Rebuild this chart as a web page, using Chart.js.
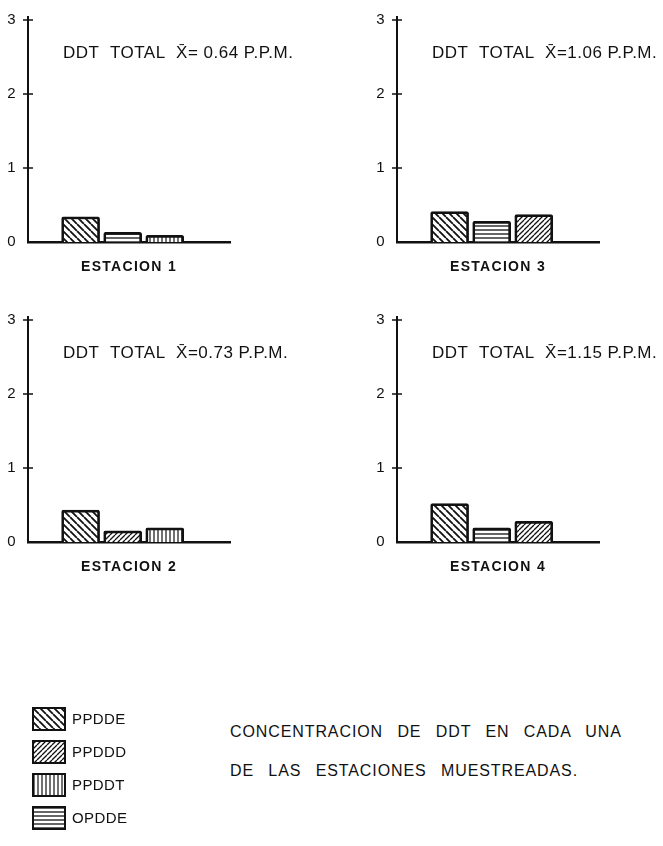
<!DOCTYPE html>
<html lang="es">
<head>
<meta charset="utf-8">
<title>Concentración de DDT por estación</title>
<script src="https://cdn.jsdelivr.net/npm/chart.js@4.4.1/dist/chart.umd.min.js"></script>
<style>
  html, body { margin: 0; padding: 0; background: #fff; }
  body {
    width: 663px; height: 846px; position: relative; overflow: hidden;
    font-family: "Liberation Sans", Arial, sans-serif; color: #111;
  }
  .panel { position: absolute; }
  #legend { position: absolute; left: 32px; top: 702px; }
  .legend-row { display: flex; align-items: center; height: 33px; }
  .legend-row span { margin-left: 6px; font-size: 15px; letter-spacing: 0.4px; }
  #caption {
    position: absolute; left: 230px; top: 712px;
    font-size: 16px; letter-spacing: 0.9px; word-spacing: 9px; line-height: 39px;
    white-space: nowrap;
  }
</style>
</head>
<body>
<canvas id="est1" class="panel" width="340" height="290" style="left:0;top:0"></canvas>
<canvas id="est3" class="panel" width="294" height="290" style="left:369px;top:0"></canvas>
<canvas id="est2" class="panel" width="340" height="290" style="left:0;top:300px"></canvas>
<canvas id="est4" class="panel" width="294" height="290" style="left:369px;top:300px"></canvas>

<div id="legend"></div>
<div id="caption">CONCENTRACION DE DDT EN CADA UNA<br>DE LAS ESTACIONES MUESTREADAS.</div>

<script>
// compounds shown in the legend, in order
const compounds = ['PPDDE', 'PPDDD', 'PPDDT', 'OPDDE'];
const yTicks = [0, 1, 2, 3];

// ppm per compound, one set of bars per station
const est1Compounds = ['PPDDE', 'OPDDE', 'PPDDT'];
const est1Values = [0.34, 0.13, 0.09];

const est3Compounds = ['PPDDE', 'OPDDE', 'PPDDD'];
const est3Values = [0.41, 0.28, 0.37];

const est2Compounds = ['PPDDE', 'PPDDD', 'PPDDT'];
const est2Values = [0.43, 0.15, 0.19];

const est4Compounds = ['PPDDE', 'OPDDE', 'PPDDD'];
const est4Values = [0.52, 0.19, 0.28];

const stationNames = ['ESTACION 1', 'ESTACION 3', 'ESTACION 2', 'ESTACION 4'];
const stationTotals = ['X\u0304= 0.64 P.P.M.', 'X\u0304=1.06 P.P.M.', 'X\u0304=0.73 P.P.M.', 'X\u0304=1.15 P.P.M.'];

const INK = '#111';
const FONT = '"Liberation Sans", Arial, sans-serif';

// hatch fills, one per compound
function makePattern(kind) {
    const sizes = { PPDDE: 7, PPDDD: 5, PPDDT: 4, OPDDE: 4 };
    const widths = { PPDDE: 1.8, PPDDD: 1.3, PPDDT: 1.2, OPDDE: 1.3 };
    const s = sizes[kind];
    const tile = document.createElement('canvas');
    tile.width = s;
    tile.height = s;
    const g = tile.getContext('2d');
    g.fillStyle = '#fff';
    g.fillRect(0, 0, s, s);
    g.strokeStyle = INK;
    g.lineWidth = widths[kind];
    g.beginPath();
    if (kind === 'PPDDE') {
        [-s, 0, s].forEach(k => { g.moveTo(k, 0); g.lineTo(k + s, s); });
    } else if (kind === 'PPDDD') {
        [-s, 0, s].forEach(k => { g.moveTo(k, s); g.lineTo(k + s, 0); });
    } else if (kind === 'PPDDT') {
        g.moveTo(s / 2, 0); g.lineTo(s / 2, s);
    } else {
        g.moveTo(0, s / 2); g.lineTo(s, s / 2);
    }
    g.stroke();
    return g.createPattern(tile, 'repeat');
}

const patterns = {};
compounds.forEach(c => { patterns[c] = makePattern(c); });

// tick crosses on the y axis and the DDT total note
const panelDecor = {
    id: 'panelDecor',
    beforeDraw(chart) {
        chart.ctx.letterSpacing = '1.3px';
    },
    afterDraw(chart, args, opts) {
        const { ctx, chartArea, scales } = chart;
        ctx.save();
        ctx.strokeStyle = INK;
        // axis runs a little past the top tick
        ctx.lineWidth = 2;
        ctx.beginPath();
        ctx.moveTo(chartArea.left, chartArea.top);
        ctx.lineTo(chartArea.left, chartArea.top - 4);
        ctx.stroke();
        ctx.lineWidth = 1.5;
        yTicks.forEach(v => {
            if (v === 0) return;
            const py = scales.y.getPixelForValue(v);
            ctx.beginPath();
            ctx.moveTo(chartArea.left - 5, py);
            ctx.lineTo(chartArea.left + 5, py);
            ctx.stroke();
        });
        ctx.font = '17px ' + FONT;
        ctx.fillStyle = INK;
        ctx.textBaseline = 'middle';
        ctx.letterSpacing = '0.5px';
        ctx.fillText('DDT  TOTAL  ' + opts.total, chartArea.left + 35, chartArea.top + 33);
        ctx.restore();
    }
};

function drawStation(id, name, total, comps, values) {
    const canvas = document.getElementById(id);
    // plot area is 202px wide whatever the canvas width
    const rightPad = canvas.width - 230;
    return new Chart(canvas.getContext('2d'), {
        type: 'bar',
        data: {
            datasets: [{
                data: values.map((v, i) => ({ x: i + 1, y: v })),
                backgroundColor: comps.map(c => patterns[c]),
                borderColor: INK,
                borderWidth: 2.7,
                borderRadius: 2,
                borderSkipped: 'bottom',
                barThickness: 38
            }]
        },
        options: {
            responsive: false,
            animation: false,
            events: [],
            layout: { padding: { top: 16, right: rightPad, bottom: 8, left: 0 } },
            plugins: {
                legend: { display: false },
                tooltip: { enabled: false },
                panelDecor: { total: total }
            },
            scales: {
                x: {
                    type: 'linear',
                    min: 0.35,
                    max: 3.95,
                    ticks: { display: false },
                    grid: { display: false, drawTicks: false },
                    border: { display: true, color: INK, width: 2.5 },
                    title: {
                        display: true,
                        text: name,
                        color: INK,
                        font: { family: FONT, size: 14, weight: 'bold' },
                        padding: { top: 0, bottom: 6 }
                    },
                    afterFit(scale) { scale.height = 40; }
                },
                y: {
                    min: 0,
                    max: 3,
                    afterBuildTicks(scale) {
                        scale.ticks = yTicks.map(v => ({ value: v }));
                    },
                    ticks: {
                        color: INK,
                        padding: 11,
                        font: { family: FONT, size: 15 }
                    },
                    grid: { display: false, drawTicks: false },
                    border: { display: true, color: INK, width: 2 },
                    afterFit(scale) { scale.width = 28; }
                }
            }
        },
        plugins: [panelDecor]
    });
}

function buildLegend() {
    const box = document.getElementById('legend');
    compounds.forEach(c => {
        const row = document.createElement('div');
        row.className = 'legend-row';
        const sw = document.createElement('canvas');
        sw.width = 34;
        sw.height = 24;
        const g = sw.getContext('2d');
        g.fillStyle = patterns[c];
        g.fillRect(1, 1, 32, 22);
        g.strokeStyle = INK;
        g.lineWidth = 2;
        g.strokeRect(1, 1, 32, 22);
        const label = document.createElement('span');
        label.textContent = c;
        row.appendChild(sw);
        row.appendChild(label);
        box.appendChild(row);
    });
}

document.addEventListener('DOMContentLoaded', function() {
    drawStation('est1', stationNames[0], stationTotals[0], est1Compounds, est1Values);
    drawStation('est3', stationNames[1], stationTotals[1], est3Compounds, est3Values);
    drawStation('est2', stationNames[2], stationTotals[2], est2Compounds, est2Values);
    drawStation('est4', stationNames[3], stationTotals[3], est4Compounds, est4Values);
    buildLegend();
});
</script>
</body>
</html>
